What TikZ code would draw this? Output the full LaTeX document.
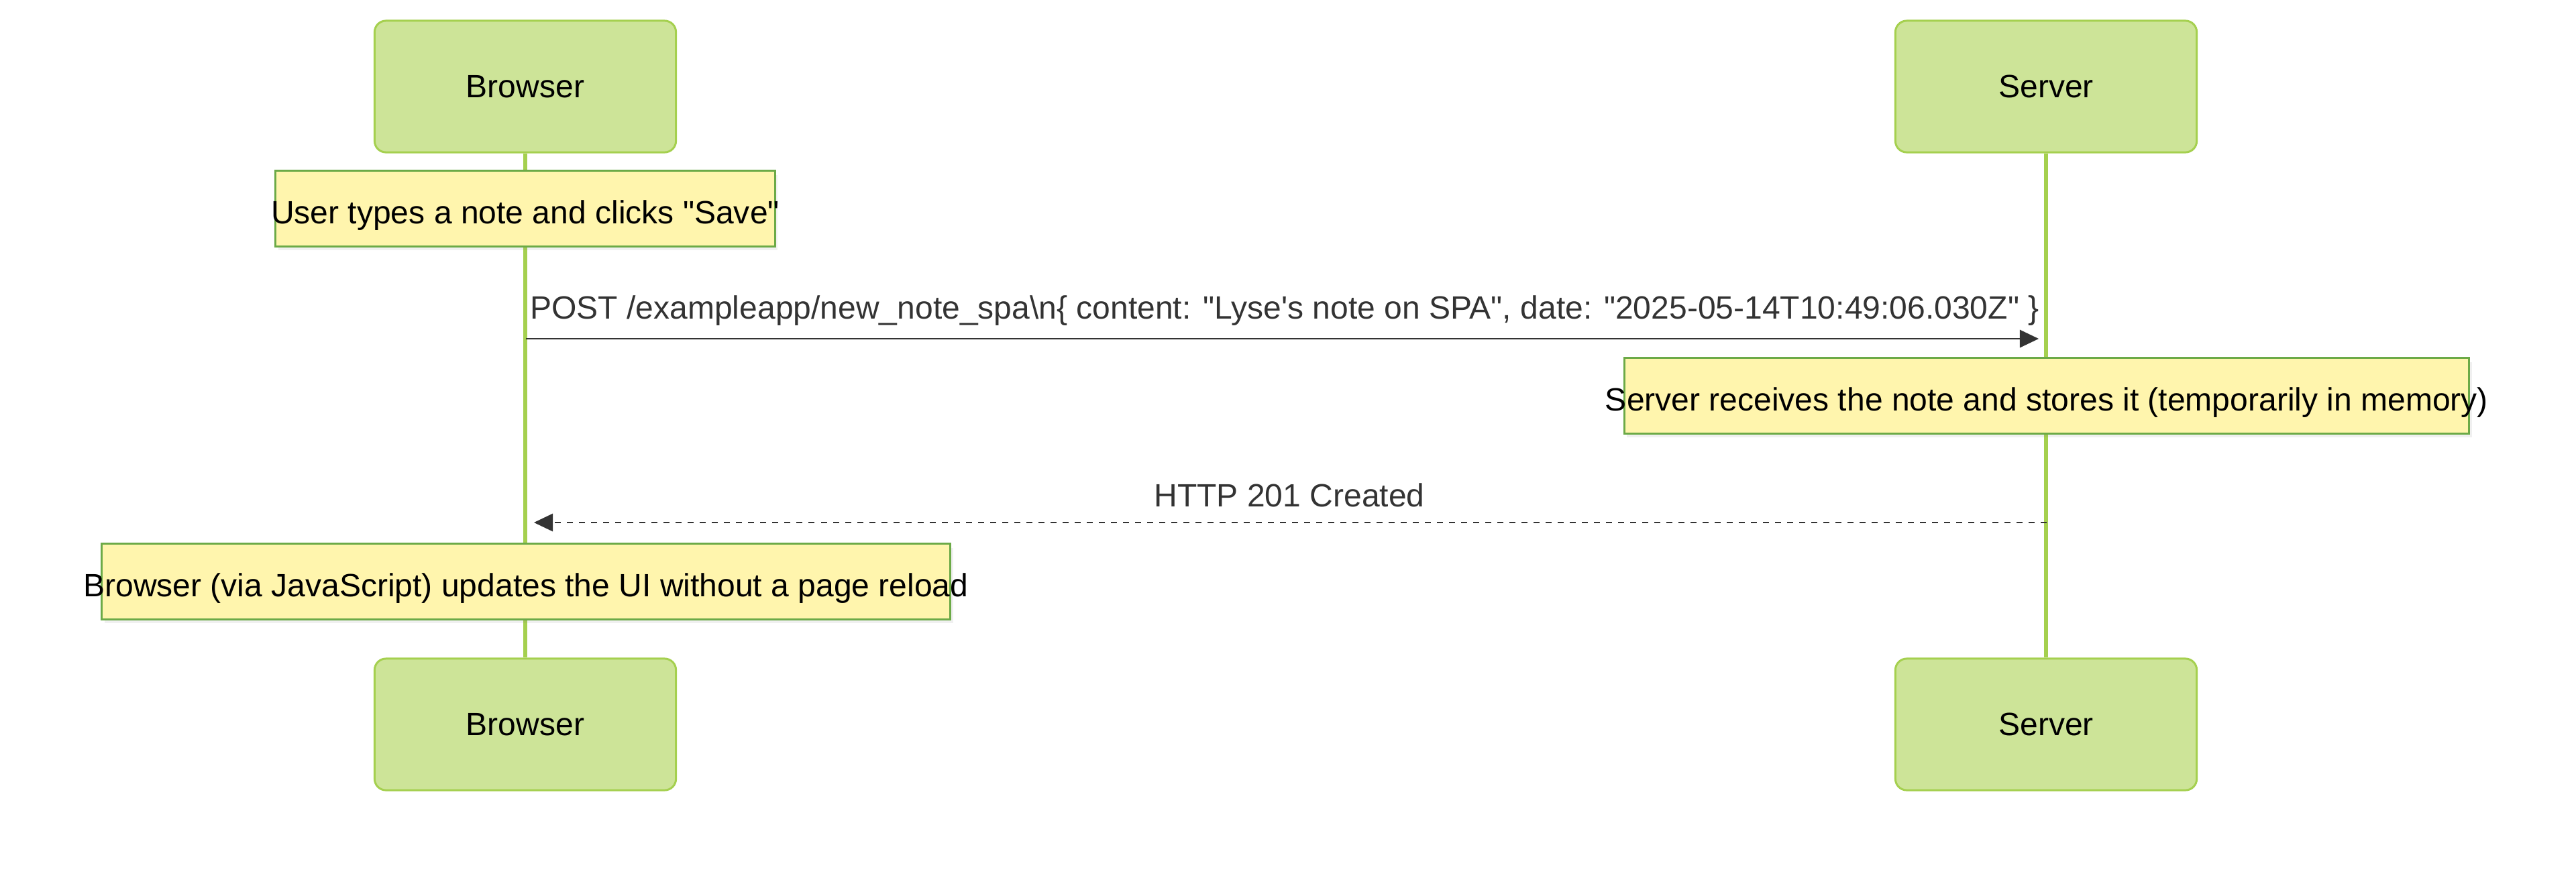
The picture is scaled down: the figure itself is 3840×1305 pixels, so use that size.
\documentclass[tikz,border=0pt]{standalone}
\usepackage{fontspec}
\setmainfont{Liberation Sans}
\usetikzlibrary{arrows.meta,shadows}
\definecolor{actorfill}{HTML}{CDE498}
\definecolor{actorline}{HTML}{A5D04F}
\definecolor{notefill}{HTML}{FFF5AD}
\definecolor{noteline}{HTML}{6CAA47}
\definecolor{msgline}{HTML}{333333}
\newcommand{\notetext}[1]{\raisebox{-6.3pt}[0pt][0pt]{\makebox[0pt]{#1}}}
\begin{document}
\begin{tikzpicture}[x=0.01cm,y=-0.01cm,
		every node/.style={font=\fontsize{13.66}{16.4}\selectfont},
		actor/.style={draw=actorline,fill=actorfill,line width=0.85pt,rounded corners=4.8pt,
			minimum width=127.75pt,minimum height=55.77pt,inner sep=0pt},
		note/.style={draw=noteline,fill=notefill,line width=0.85pt,minimum height=31.9pt,inner sep=0pt,
			drop shadow={shadow xshift=1.2pt,shadow yshift=-1.6pt,opacity=0.12}},
		lifeline/.style={draw=actorline,line width=1.7pt},
		msgtext/.style={text=msgline,inner sep=0pt},
		msg/.style={draw=msgline,line width=0.57pt,shorten >=3.4pt,-{Triangle[length=8pt,width=7.5pt]}}]
		\useasboundingbox (0,0) rectangle (3840,1305);
		% actors
		\node[actor] (browserTop) at (783,129) {Browser};
		\node[actor] (serverTop) at (3050,129) {Server};
		\node[actor] (browserBot) at (783,1080) {Browser};
		\node[actor] (serverBot) at (3050,1080) {Server};
		\draw[lifeline] (browserTop) -- (browserBot);
		\draw[lifeline] (serverTop) -- (serverBot);
		% notes
		\node[note,minimum width=211.7pt] (noteSave) at (783,311) {\notetext{User types a note and clicks \textquotedbl Save\textquotedbl}};
		\node[note,minimum width=358.2pt] (noteStore) at (3051,590) {\notetext{Server receives the note and stores it (temporarily in memory)}};
		\node[note,minimum width=359.6pt] (noteUpdate) at (784,867) {\notetext{Browser (via JavaScript) updates the UI without a page reload}};
		% messages
		\coordinate (postB) at (784,505);
		\coordinate (postS) at (3051,505);
		\coordinate (httpS) at (3051,779);
		\coordinate (httpB) at (784,779);
		\node[msgtext] (postLbl) at (1915,463) {POST /exampleapp/new\_note\_spa\textbackslash n\{ content: \textquotedbl Lyse\textquotesingle s note on SPA\textquotedbl, date: \textquotedbl 2025-05-14T10:49:06.030Z\textquotedbl\ \}};
		\node[msgtext] (httpLbl) at (1922,738) {HTTP 201 Created};
		\draw[msg] (postB) -- (postS);
		\draw[msg,dash pattern=on 2.56pt off 2.56pt] (httpS) -- (httpB);
	\end{tikzpicture}
\end{document}
